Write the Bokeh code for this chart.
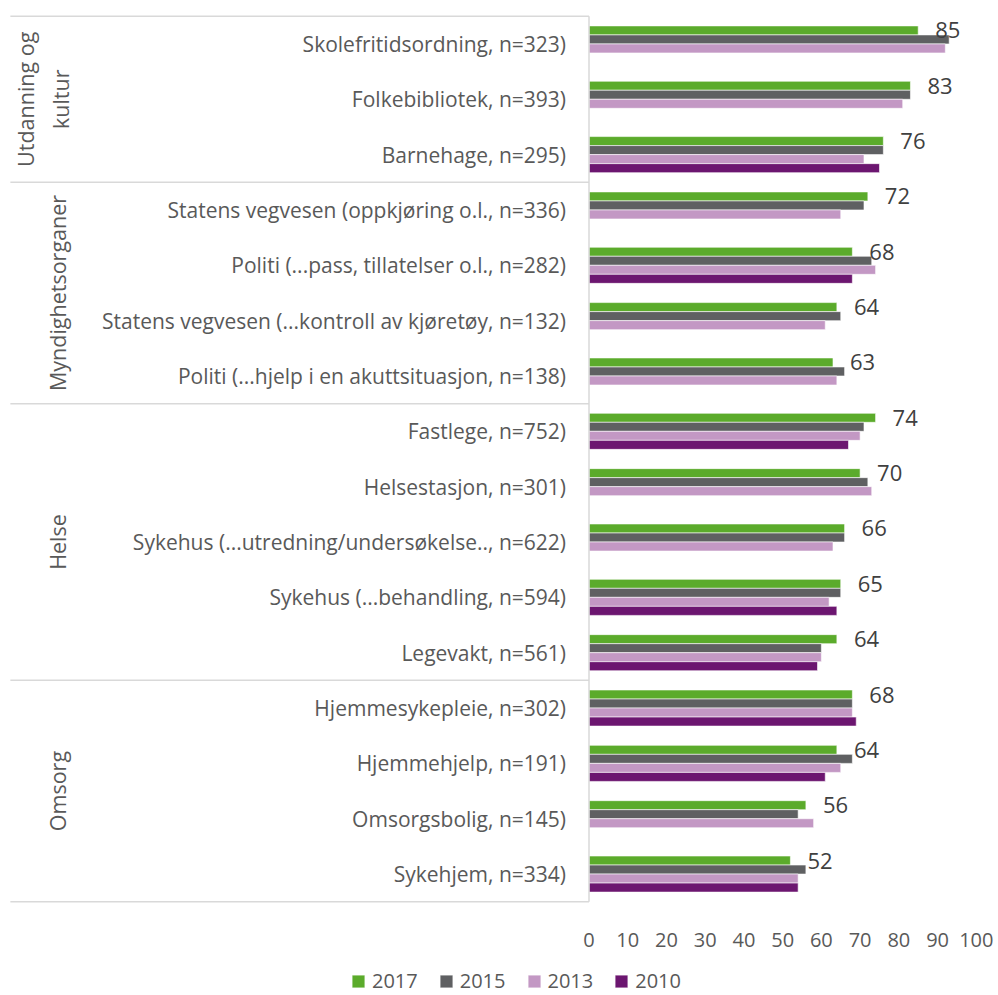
import numpy as np
from bokeh.plotting import figure
from bokeh.layouts import column
from bokeh.models import Range1d, FixedTicker, Legend, LegendItem
from bokeh.core.properties import value
from bokeh.embed import file_html
from bokeh.resources import INLINE

# ---------------- data ----------------
categories = [
    "Skolefritidsordning, n=323)",
    "Folkebibliotek, n=393)",
    "Barnehage, n=295)",
    "Statens vegvesen (oppkjøring o.l., n=336)",
    "Politi (...pass, tillatelser o.l., n=282)",
    "Statens vegvesen (...kontroll av kjøretøy, n=132)",
    "Politi (...hjelp i en akuttsituasjon, n=138)",
    "Fastlege, n=752)",
    "Helsestasjon, n=301)",
    "Sykehus (...utredning/undersøkelse.., n=622)",
    "Sykehus (...behandling, n=594)",
    "Legevakt, n=561)",
    "Hjemmesykepleie, n=302)",
    "Hjemmehjelp, n=191)",
    "Omsorgsbolig, n=145)",
    "Sykehjem, n=334)",
]
groups = ["Utdanning og\nkultur", "Myndighetsorganer", "Helse", "Omsorg"]
group_sizes = [3, 4, 5, 4]
years = ["2017", "2015", "2013", "2010"]
v2017 = [85, 83, 76, 72, 68, 64, 63, 74, 70, 66, 65, 64, 68, 64, 56, 52]
v2015 = [93, 83, 76, 71, 73, 65, 66, 71, 72, 66, 65, 60, 68, 68, 54, 56]
v2013 = [92, 81, 71, 65, 74, 61, 64, 70, 73, 63, 62, 60, 68, 65, 58, 54]
v2010 = [None, None, 75, None, 68, None, None, 67, None, None, 64, 59, 69, 61, None, 54]
x_ticks = [0, 10, 20, 30, 40, 50, 60, 70, 80, 90, 100]

# ---------------- style ----------------
colors = ["#5BAB2B", "#5F6062", "#C398C4", "#6C1670"]
FONT = "Open Sans"
TXT = "#595959"
GRID = "#D9D9D9"

series = [v2017, v2015, v2013, v2010]
n = len(categories)
ycenter = [n - 0.5 - i for i in range(n)]
bar_h = 0.163
offsets = [(1.5 - k) * bar_h for k in range(4)]

p = figure(
    width=998, height=964,
    x_range=Range1d(-151.95, 105.73), y_range=Range1d(-0.05, 16.05),
    y_axis_location=None,
    min_border_left=0, min_border_right=0, min_border_top=13, min_border_bottom=60,
    output_backend="svg", toolbar_location=None,
)
p.outline_line_color = None
p.grid.visible = False
p.background_fill_color = "white"

# bars
renderers = []
for k, vals in enumerate(series):
    ys = [ycenter[i] + offsets[k] for i, v in enumerate(vals) if v is not None]
    xs = [v for v in vals if v is not None]
    r = p.hbar(y=ys, left=0, right=xs, height=bar_h, fill_color=colors[k],
               line_color="white", line_width=0.6)
    renderers.append(r)

# data labels (2017)
p.text(x=v2017, y=[yc + offsets[0] for yc in ycenter], text=[str(v) for v in v2017],
       x_offset=17, text_align="left", text_baseline="middle",
       text_font=value(FONT), text_font_size="22px", text_color="#404040")

# category labels
p.text(x=[0] * n, y=ycenter, text=categories, x_offset=-23,
       text_align="right", text_baseline="middle",
       text_font=value(FONT), text_font_size="21px", text_color=TXT)

# group separators and labels
bounds = [n]
acc = n
for s in group_sizes:
    acc -= s
    bounds.append(acc)
p.segment(x0=[-149.4] * len(bounds), x1=[0] * len(bounds), y0=bounds, y1=bounds,
          line_color=GRID, line_width=1.5)
p.segment(x0=[0], x1=[0], y0=[0], y1=[n], line_color=GRID, line_width=1.5)

gy = [(bounds[j] + bounds[j + 1]) / 2 for j in range(len(groups))]
gx = [-137.2 - 3.75 * g.count("\n") for g in groups]
p.text(x=gx, y=gy, text=groups, angle=np.pi / 2, text_align="center",
       text_baseline="middle", text_font=value(FONT), text_font_size="21.5px",
       text_color=TXT)

# x axis
ax = p.xaxis[0]
ax.ticker = FixedTicker(ticks=x_ticks)
ax.axis_label = None
ax.axis_line_color = None
ax.major_tick_line_color = None
ax.minor_tick_line_color = None
ax.major_tick_out = 0
ax.major_label_text_font = FONT
ax.major_label_text_font_size = "20px"
ax.major_label_text_color = TXT
ax.major_label_standoff = 28

# ---------------- legend strip ----------------
pl = figure(
    width=998, height=31, x_range=Range1d(0, 1), y_range=Range1d(0, 1),
    x_axis_location=None, y_axis_location=None,
    min_border_left=0, min_border_right=0, min_border_top=0, min_border_bottom=0,
    output_backend="svg", toolbar_location=None,
)
pl.outline_line_color = None
pl.grid.visible = False
key_renderers = [
    pl.hbar(y=[np.nan], left=[np.nan], right=[np.nan], height=0.1,
            fill_color=colors[k], line_color="white", line_width=0.6)
    for k in range(4)
]
legend = Legend(
    items=[LegendItem(label=years[k], renderers=[key_renderers[k]]) for k in range(4)],
    orientation="horizontal", location=(350, 1),
    glyph_width=16, glyph_height=16, label_standoff=6, spacing=20,
    padding=0, margin=0, border_line_color=None, background_fill_alpha=0,
    label_text_font=FONT, label_text_font_size="20px", label_text_color=TXT,
)
pl.add_layout(legend, "center")

layout = column(p, pl, spacing=0)
open("out.html", "w").write(file_html(layout, INLINE))
